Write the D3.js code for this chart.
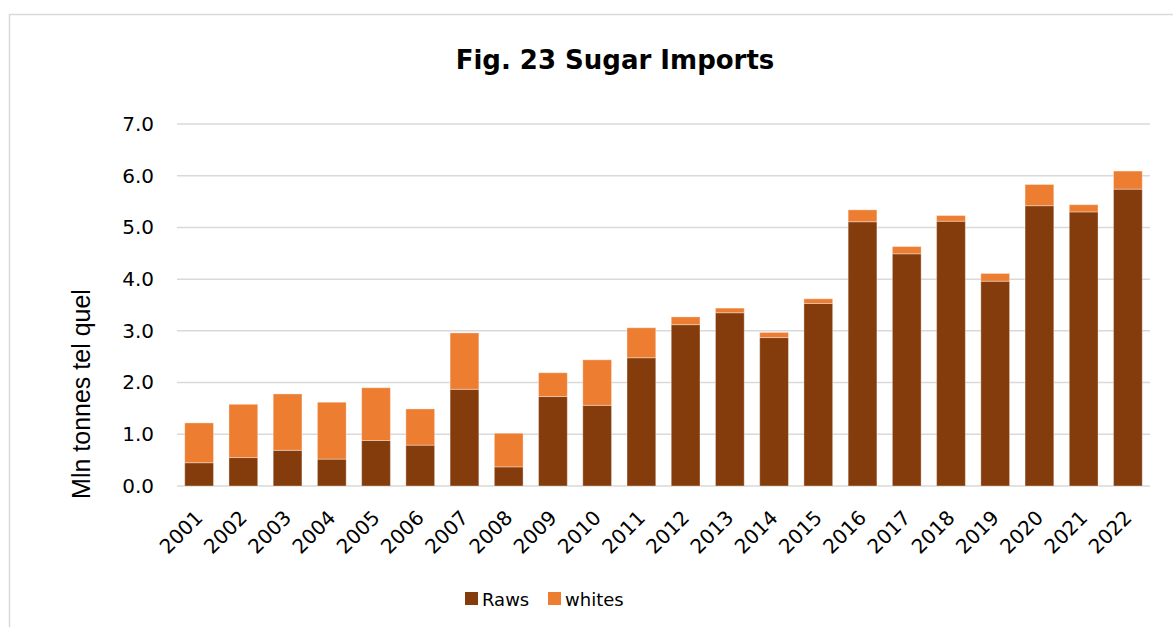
<!DOCTYPE html>
<html>
<head>
<meta charset="utf-8">
<script src="https://cdn.jsdelivr.net/npm/d3@7"></script>
<style>
  html, body { margin: 0; padding: 0; background: #fff; }
  svg { display: block; }
</style>
</head>
<body>
<div id="chart"></div>
<script>
// Sugar imports, million tonnes tel quel
const years = ["2001","2002","2003","2004","2005","2006","2007","2008","2009","2010","2011",
               "2012","2013","2014","2015","2016","2017","2018","2019","2020","2021","2022"];
const raws   = [0.45, 0.55, 0.69, 0.52, 0.88, 0.79, 1.87, 0.37, 1.73, 1.56, 2.48,
                3.12, 3.35, 2.87, 3.53, 5.11, 4.49, 5.12, 3.96, 5.42, 5.30, 5.74];
const whites = [0.77, 1.03, 1.09, 1.10, 1.02, 0.70, 1.09, 0.65, 0.46, 0.88, 0.58,
                0.15, 0.09, 0.10, 0.09, 0.23, 0.14, 0.11, 0.15, 0.41, 0.14, 0.35];
const yTicks = [0, 1, 2, 3, 4, 5, 6, 7];
const seriesNames = ["Raws", "whites"];
const seriesColors = ["#843C0C", "#ED7D31"];

const W = 1173, H = 627;
const plot = { left: 177, right: 1150, top: 124, bottom: 486 };

const svg = d3.select("#chart").append("svg")
  .attr("width", W).attr("height", H);

// chart frame
svg.append("rect")
  .attr("x", 9.5).attr("y", 14.5)
  .attr("width", W + 20).attr("height", H)
  .attr("fill", "none").attr("stroke", "#d9d9d9").attr("stroke-width", 1.5);

const x = d3.scaleBand().domain(years)
  .range([plot.left, plot.right]).paddingInner(0.35).paddingOuter(0.175);
const y = d3.scaleLinear().domain([0, 7]).range([plot.bottom, plot.top]);

// horizontal gridlines
svg.append("g").selectAll("line").data(yTicks).join("line")
  .attr("x1", plot.left).attr("x2", plot.right)
  .attr("y1", d => y(d)).attr("y2", d => y(d))
  .attr("stroke", "#d9d9d9").attr("stroke-width", 1.5);

// y tick labels
const yAxis = d3.axisLeft(y).tickValues(yTicks).tickFormat(d3.format(".1f")).tickSize(0).tickPadding(0);
const gy = svg.append("g").attr("transform", `translate(154,0)`).call(yAxis);
gy.select(".domain").remove();
gy.selectAll("text")
  .attr("font-family", "DejaVu Sans, Verdana, sans-serif")
  .attr("font-size", 20).attr("fill", "#000");

// stacked bars
const table = years.map((yr, i) => ({ year: yr, Raws: raws[i], whites: whites[i] }));
const stack = d3.stack().keys(seriesNames)(table);

svg.append("g").selectAll("g").data(stack).join("g")
  .attr("fill", (d, i) => seriesColors[i])
  .selectAll("rect").data(d => d).join("rect")
  .attr("x", d => x(d.data.year))
  .attr("width", x.bandwidth())
  .attr("y", d => y(d[1]))
  .attr("height", d => y(d[0]) - y(d[1]))
  .attr("stroke", "#ffffff").attr("stroke-opacity", 0.35).attr("stroke-width", 1);

// x tick labels, rotated
svg.append("g").selectAll("text").data(years).join("text")
  .attr("transform", d => `translate(${x(d) + x.bandwidth() / 2 + 5},519) rotate(-45)`)
  .attr("text-anchor", "end")
  .attr("font-family", "DejaVu Sans, Verdana, sans-serif")
  .attr("font-size", 20).attr("fill", "#000")
  .text(d => d);

// title
svg.append("text")
  .attr("x", 615).attr("y", 69)
  .attr("text-anchor", "middle")
  .attr("font-family", "DejaVu Sans, Verdana, sans-serif")
  .attr("font-weight", "bold").attr("font-size", 26).attr("fill", "#000")
  .text("Fig. 23 Sugar Imports");

// y axis title
svg.append("text")
  .attr("transform", "translate(90,394) rotate(-90)")
  .attr("text-anchor", "middle")
  .attr("font-family", "Liberation Sans, Arial, sans-serif")
  .attr("font-size", 25).attr("fill", "#000")
  .text("Mln tonnes tel quel");

// legend
const legendItems = [
  { name: seriesNames[0], color: seriesColors[0], sx: 465, tx: 482 },
  { name: seriesNames[1], color: seriesColors[1], sx: 548, tx: 565 }
];
const lg = svg.append("g").selectAll("g").data(legendItems).join("g");
lg.append("rect")
  .attr("x", d => d.sx).attr("y", 592)
  .attr("width", 13).attr("height", 13)
  .attr("fill", d => d.color);
lg.append("text")
  .attr("x", d => d.tx).attr("y", 606)
  .attr("font-family", "DejaVu Sans, Verdana, sans-serif")
  .attr("font-size", 18).attr("fill", "#000")
  .text(d => d.name);
</script>
</body>
</html>
